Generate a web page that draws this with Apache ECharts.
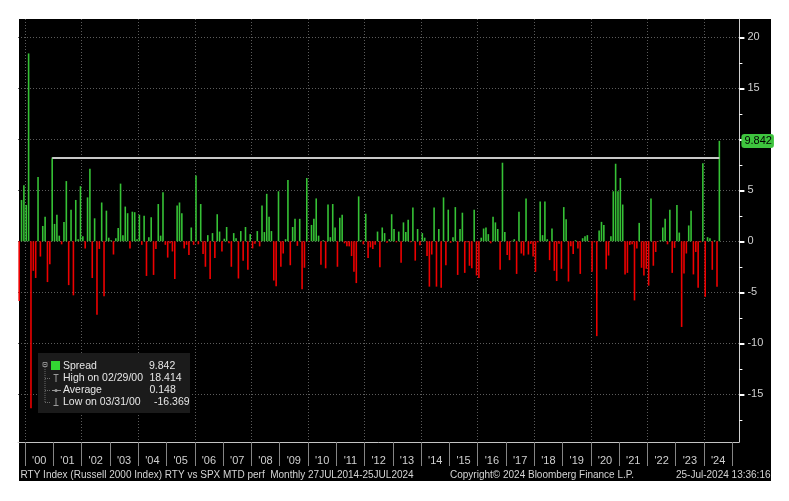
<!DOCTYPE html>
<html><head><meta charset="utf-8">
<script src="https://cdn.jsdelivr.net/npm/echarts@6/dist/echarts.min.js"></script>
<style>
html,body{margin:0;padding:0;background:#fff;}
#bg{position:absolute;left:19px;top:19px;width:752px;height:462px;background:#000;}
#c{position:absolute;left:0;top:0;width:789px;height:501px;}
</style>
</head><body><div id="bg"></div><div id="c"></div>
<script>
// ---- data (RTY vs SPX monthly spread, %), Oct 1999 .. Jul 2024 ----
const spread1999to2003 = [-5.85,4.05,5.5,
  3.56,18.414,-16.369,-2.9,-3.6,6.3,-1.5,1.5,2.4,-4.0,-2.25,8.2,
  1.7,2.6,0.55,-0.3,1.9,5.9,-4.3,3.1,-5.3,4.05,0.2,5.4,
  0.5,-0.7,4.3,7.1,-3.6,2.25,-7.2,-0.75,3.8,-5.4,3.0,0.35,
  0.1,-1.3,0.3,1.3,5.65,0.6,3.4,2.75,-0.7,2.9,2.85,0.2];
const spread2004to2008 = [2.6,-0.35,2.5,-3.4,0.4,2.35,-3.3,-0.75,3.65,0.55,4.8,-0.35,
  -1.6,-0.2,-1.0,-3.7,3.5,3.8,2.75,-0.7,-0.35,-1.35,1.35,-0.35,
  6.45,-0.3,3.65,-1.25,-2.5,0.6,-3.7,0.8,-1.65,2.65,0.95,-1.0,
  0.25,1.4,-0.2,-2.5,0.8,0.3,-3.65,1.0,-1.9,1.4,-2.8,0.7,
  -0.7,-0.25,1.0,-0.5,3.5,0.9,4.65,2.4,1.0,-3.85,-4.4,4.9];
const spread2009to2013 = [-2.5,-1.2,0.2,6.0,-2.35,1.4,2.2,-0.45,2.2,-4.7,-2.6,6.2,
  -0.05,1.6,2.2,4.2,0.55,-2.3,0.1,-2.65,3.6,0.4,3.65,1.35,
  -2.5,2.3,2.6,-0.2,-0.5,-0.5,-1.45,-3.0,-4.1,4.4,0.1,-0.3,
  2.7,-1.65,-0.6,-0.75,-0.35,0.95,-2.55,1.35,0.8,-0.15,0.2,2.65,
  1.2,-0.1,0.95,-2.1,1.85,0.9,2.1,-0.1,3.3,-1.9,1.2,-0.4];
const spread2014to2018 = [0.8,0.35,-1.45,-4.45,-1.3,3.3,-4.45,1.2,-4.55,4.3,-2.35,3.1,
  -0.15,0.4,3.35,-3.3,1.2,2.8,-3.1,-0.1,-2.4,-2.65,3.1,-3.35,
  -3.6,0.35,1.25,1.35,0.7,-0.2,2.4,1.85,1.2,-2.8,7.7,0.9,
  -1.35,-1.85,0.05,0.2,-3.2,2.9,-1.2,-1.4,4.2,-1.3,-0.25,-1.5,
  -3.0,-0.1,3.9,0.6,3.9,0.2,-1.85,1.25,-2.9,-3.9,-0.25,-2.7];
const spread2019to2024 = [3.35,2.15,-3.95,-0.5,-1.25,0.1,-0.7,-3.2,0.3,0.5,0.6,-0.05,
  -3.0,-0.1,-9.3,1.05,1.9,1.6,-2.75,-1.4,0.5,4.9,7.6,4.9,
  6.2,3.6,-3.25,-3.1,-0.35,-0.3,-5.8,-0.7,1.8,-2.6,-3.35,-2.7,
  -4.35,4.2,-2.4,-1.05,-0.05,0.1,1.35,2.2,-0.3,3.1,-3.1,-0.65,
  3.55,0.85,-8.4,-3.15,-1.2,1.55,3.0,-3.25,-1.05,-4.55,-0.1,7.65,
  -5.45,0.4,0.3,-2.8,0.1,-4.45,9.842];
const yTickValues = [-15,-10,-5,0,5,10,15,20];
const yMinorTickValues = [-17.5,-12.5,-7.5,-2.5,2.5,7.5,12.5,17.5];
const legendRows = [
  {name:'Spread', value:'9.842'},
  {name:'High on 02/29/00', value:'18.414'},
  {name:'Average', value:'0.148'},
  {name:'Low on 03/31/00', value:'-16.369'}
];
const lastValueText = '9.842';
const footerLeft = 'RTY Index (Russell 2000 Index) RTY vs SPX MTD perf  Monthly 27JUL2014-25JUL2024';
const footerMid = 'Copyright\u00A9 2024 Bloomberg Finance L.P.';
const footerRight = '25-Jul-2024 13:36:16';
const annotationFromIndex = 14; // Dec 2000 bar, line drawn to latest bar

// ---- build ----
const spread = [].concat(spread1999to2003, spread2004to2008, spread2009to2013, spread2014to2018, spread2019to2024);
const categories = [];
{ let y = 1999, m = 10; for (let k = 0; k < 306; k++) { categories.push(y + '-' + (m < 10 ? '0' + m : '' + m)); m++; if (m > 12) { m = 1; y++; } } }
const seriesData = categories.map((c, i) => i < spread.length ? spread[i] : null);
const lastIdx = spread.length - 1;
const FONT = '"Liberation Sans", Arial, sans-serif';
const GREEN = '#36c236', RED = '#ee0000';

const chart = echarts.init(document.getElementById('c'), null, {renderer: 'canvas'});
const graphics = [
  {type:'rect', shape:{x:38, y:353, width:152, height:60}, style:{fill:'#1b1b1b'}, z:100},
  // tree glyph
  {type:'rect', shape:{x:43, y:362.5, width:4, height:4}, style:{fill:'none', stroke:'#8a8a8a', lineWidth:1}, z:101},
  {type:'line', shape:{x1:44, y1:364.5, x2:46, y2:364.5}, style:{stroke:'#8a8a8a', lineWidth:1}, z:101},
  {type:'line', shape:{x1:45, y1:367, x2:45, y2:403}, style:{stroke:'#6a6a6a', lineWidth:1, lineDash:[1,1]}, z:101},
  {type:'line', shape:{x1:45, y1:378.5, x2:51, y2:378.5}, style:{stroke:'#6a6a6a', lineWidth:1, lineDash:[1,1]}, z:101},
  {type:'line', shape:{x1:45, y1:390.5, x2:51, y2:390.5}, style:{stroke:'#6a6a6a', lineWidth:1, lineDash:[1,1]}, z:101},
  {type:'line', shape:{x1:45, y1:402.5, x2:51, y2:402.5}, style:{stroke:'#6a6a6a', lineWidth:1, lineDash:[1,1]}, z:101},
  {type:'rect', shape:{x:51, y:361, width:9, height:9}, style:{fill:'#33d633'}, z:101},
  // high glyph (T)
  {type:'line', shape:{x1:53.5, y1:374.5, x2:58.5, y2:374.5}, style:{stroke:'#9a9a9a', lineWidth:1}, z:101},
  {type:'line', shape:{x1:56, y1:374.5, x2:56, y2:382}, style:{stroke:'#9a9a9a', lineWidth:1}, z:101},
  // average glyph
  {type:'line', shape:{x1:52, y1:390.5, x2:61, y2:390.5}, style:{stroke:'#9a9a9a', lineWidth:1}, z:101},
  {type:'circle', shape:{cx:56, cy:390.5, r:1.5}, style:{fill:'#9a9a9a'}, z:101},
  // low glyph
  {type:'line', shape:{x1:56, y1:398, x2:56, y2:405.5}, style:{stroke:'#9a9a9a', lineWidth:1}, z:101},
  {type:'line', shape:{x1:53.5, y1:405.5, x2:58.5, y2:405.5}, style:{stroke:'#9a9a9a', lineWidth:1}, z:101},
  // mask the band-end tick below the axis corner
  {type:'rect', shape:{x:737, y:443, width:5, height:26}, style:{fill:'#000'}, z:100},
];
const rowY = [366, 378.5, 390.5, 402.5];
const valX = [149, 149.5, 149.5, 154];
legendRows.forEach((r, k) => {
  graphics.push({type:'text', x:63, y:rowY[k], style:{text:r.name, fill:'#e6e6e6', font:'10.5px ' + FONT, textVerticalAlign:'middle'}, z:102});
  graphics.push({type:'text', x:valX[k], y:rowY[k], style:{text:r.value, fill:'#e6e6e6', font:'10.5px ' + FONT, textVerticalAlign:'middle'}, z:102});
});
graphics.push({type:'text', x:20.5, y:475.5, style:{text:footerLeft, fill:'#d4d4d4', font:'10px ' + FONT, textVerticalAlign:'middle'}, z:102});
graphics.push({type:'text', x:450, y:475.5, style:{text:footerMid, fill:'#d4d4d4', font:'10px ' + FONT, textVerticalAlign:'middle'}, z:102});
graphics.push({type:'text', x:770.5, y:475.5, style:{text:footerRight, fill:'#d4d4d4', font:'10px ' + FONT, textAlign:'right', textVerticalAlign:'middle'}, z:102});

const yMin = -19.68, yMax = 21.79;
chart.setOption({
  animation: false,
  backgroundColor: 'transparent',
  textStyle: {fontFamily: FONT},
  grid: {left: 18, right: 49.6, top: 19, bottom: 59, containLabel: false},
  xAxis: {
    type: 'category', data: categories, boundaryGap: true,
    axisLine: {show: true, onZero: false, lineStyle: {color: '#c4c4c4', width: 1}},
    axisTick: {show: true, interval: (i, v) => v.endsWith('-01'), length: 24, lineStyle: {color: '#858585'}},
    axisLabel: {
      interval: (i, v) => v.endsWith('-07') && +v.slice(0, 4) >= 2000,
      formatter: v => "'" + v.slice(2, 4), color: '#d0d0d0', fontSize: 11, margin: 13, padding: [0, 2.4, 0, 0]
    },
    splitLine: {show: true, interval: (i, v) => v.endsWith('-01') && (+v.slice(0, 4)) % 2 === 0,
      lineStyle: {color: '#5c5c5c', type: [1, 2], width: 1}}
  },
  yAxis: [{
    type: 'value', position: 'right', min: yMin, max: yMax,
    axisLine: {show: true, lineStyle: {color: '#d0d0d0', width: 1}},
    axisTick: {show: true, customValues: yTickValues, length: 5, lineStyle: {color: '#ffffff', width: 2}},
    axisLabel: {customValues: yTickValues, color: '#d0d0d0', fontSize: 11, margin: 8},
    splitLine: {show: true, lineStyle: {color: '#5c5c5c', type: [1, 2], width: 1}}
  }, {
    type: 'value', position: 'right', min: yMin, max: yMax,
    axisLine: {show: false},
    axisTick: {show: true, customValues: yMinorTickValues, length: 3, lineStyle: {color: '#ffffff', width: 1}},
    axisLabel: {show: false},
    splitLine: {show: false}
  }],
  series: [{
    type: 'bar', yAxisIndex: 0, data: seriesData, barWidth: 1.6,
    itemStyle: {color: p => (p.value >= 0 ? GREEN : RED)},
    markLine: {
      silent: true, symbol: 'none', animation: false,
      data: [
        [{coord: [categories[annotationFromIndex], spread[annotationFromIndex]], lineStyle: {color: '#c8c8c8', width: 2, type: 'solid'}, label: {show: false}},
         {coord: [categories[lastIdx], spread[annotationFromIndex]]}],
        {yAxis: spread[lastIdx], lineStyle: {color: 'rgba(0,0,0,0)', width: 0},
         label: {show: true, position: 'end', distance: 2, formatter: lastValueText, color: '#000', fontSize: 11,
                 backgroundColor: '#3ec43e', padding: [2, 2, 1, 3], borderRadius: 3}}
      ]
    }
  }],
  graphic: graphics
});
</script>
</body></html>
